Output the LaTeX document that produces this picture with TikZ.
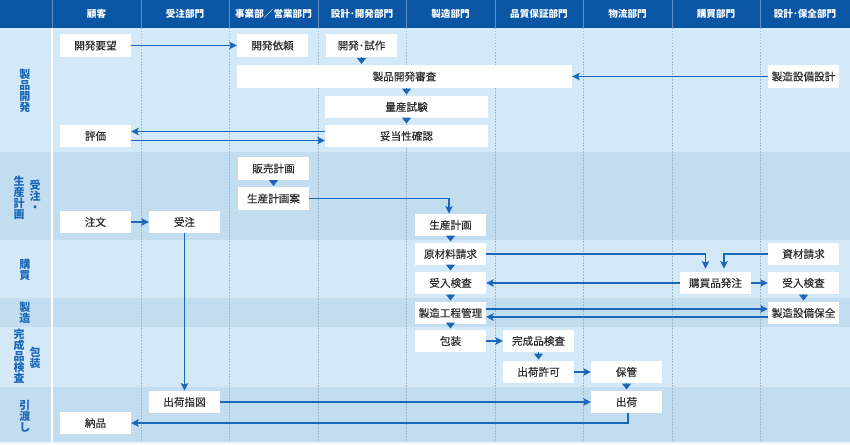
\documentclass[tikz,border=0pt]{standalone}
\usepackage{fontspec}
\setmainfont{Noto Sans CJK JP}
\newfontfamily\boxfont{Noto Sans CJK JP}[FakeBold=0.35]
\usepackage{xcolor}
\usetikzlibrary{arrows.meta}

\definecolor{headblue}{HTML}{0A56A5}
\definecolor{headline}{HTML}{5E8EC5}
\definecolor{bandlight}{HTML}{D4E9F7}
\definecolor{banddark}{HTML}{C2DDEF}
\definecolor{flowblue}{HTML}{1B67B9}
\definecolor{textgray}{HTML}{2E2E2E}
\definecolor{gridgray}{HTML}{A3B9CB}

\newcommand\lanefont{\bfseries\fontsize{11}{11.1}\selectfont\setlength{\lineskiplimit}{-20pt}\setlength{\lineskip}{0pt}}

\begin{document}
\begin{tikzpicture}
                \tikzset{x={(1pt, 0pt)}, y={(0pt, -1pt)}}
                \tikzset{
                    box/.style={fill=white, minimum width=71pt, minimum height=22.5pt, inner sep=0pt, text=textgray, font={\boxfont\fontsize{10.6}{12}\selectfont}},
                    headtxt/.style={text=white, font={\bfseries\fontsize{9.6}{11}\selectfont}},
                    lane/.style={text=flowblue, align=center, inner sep=0pt, font={\lanefont}},
                    flow/.style={draw=flowblue, line width=1.1pt, -{Stealth[length=7.5pt, width=7.5pt, inset=1.5pt]}},
                    tri/.style={draw=flowblue, line width=1pt, shorten >=1pt, -{Triangle[length=6pt, width=9pt]}},
                    sepline/.style={draw=gridgray, line width=0.6pt, dash pattern=on 1.5pt off 1.5pt}
                }
                \useasboundingbox (0, 0) rectangle (850, 444);
                \fill[white!60!bandlight] (0, 0) rectangle (850, 444);
                \fill[bandlight] (0, 28) rectangle (850, 152);
                \fill[banddark] (0, 152) rectangle (850, 240);
                \fill[bandlight] (0, 240) rectangle (850, 298);
                \fill[banddark] (0, 298) rectangle (850, 327);
                \fill[bandlight] (0, 327) rectangle (850, 387);
                \fill[banddark] (0, 387) rectangle (850, 441.5);
                \fill[headblue] (0, 0) rectangle (850, 28);

                \draw[headline, line width=0.8pt] ( 52, 0) -- ( 52, 28);
                \draw[headline, line width=0.8pt] (141, 0) -- (141, 28);
                \draw[headline, line width=0.8pt] (229, 0) -- (229, 28);
                \draw[headline, line width=0.8pt] (318, 0) -- (318, 28);
                \draw[headline, line width=0.8pt] (406, 0) -- (406, 28);
                \draw[headline, line width=0.8pt] (495, 0) -- (495, 28);
                \draw[headline, line width=0.8pt] (583, 0) -- (583, 28);
                \draw[headline, line width=0.8pt] (672, 0) -- (672, 28);
                \draw[headline, line width=0.8pt] (760, 0) -- (760, 28);

                \draw[white, line width=2pt] (52, 28) -- (52, 441.5);
                \draw[sepline] (141, 28) -- (141, 441.5);
                \draw[sepline] (229, 28) -- (229, 441.5);
                \draw[sepline] (318, 28) -- (318, 441.5);
                \draw[sepline] (406, 28) -- (406, 441.5);
                \draw[sepline] (495, 28) -- (495, 441.5);
                \draw[sepline] (583, 28) -- (583, 441.5);
                \draw[sepline] (672, 28) -- (672, 441.5);
                \draw[sepline] (760, 28) -- (760, 441.5);

                \node[headtxt] (hkokyaku) at ( 96.5, 14) {顧客};
                \node[headtxt] (hjuchu)   at (185,   14) {受注部門};
                \node[headtxt] (heigyo)   at (273.5, 14) {事業部／営業部門};
                \node[headtxt] (hkaihatsu) at (362,  14) {設計･開発部門};
                \node[headtxt] (hseizo)   at (450.5, 14) {製造部門};
                \node[headtxt] (hhinsho)  at (539,   14) {品質保証部門};
                \node[headtxt] (hbutsuryu) at (627.5, 14) {物流部門};
                \node[headtxt] (hkobai)   at (716,   14) {購買部門};
                \node[headtxt] (hhozen)   at (805,   14) {設計･保全部門};

                \node[lane] (lseihin)  at (25,  90.5) {製\\品\\開\\発};
                \node[lane] (lkeikaku) at (19, 197.5) {生\\産\\計\\画};
                \node[lane] (ljuchu)   at (35, 195.5) {受\\注\\・};
                \node[lane] (lkobai)   at (25, 270) {購\\買};
                \node[lane] (lseizo)   at (25, 312.5) {製\\造};
                \node[lane] (lkensa)   at (19, 356) {完\\成\\品\\検\\査};
                \node[lane] (lhoso)    at (35, 357.5) {包\\装};
                \node[lane] (lhikiwatashi) at (25, 416) {引\\渡\\し};

                \node[box] (yobo)    at ( 95.5,  45.5) {開発要望};
                \node[box] (irai)    at (272.5,  45.5) {開発依頼};
                \node[box] (shisaku) at (361.5,  45.5) {開発･試作};
                \node[box, minimum width=335pt] (shinsa) at (404.5, 76.5) {製品開発審査};
                \node[box] (setsubi) at (803.5,  76.5) {製造設備設計};
                \node[box, minimum width=163pt] (shiken)  at (406.5, 107) {量産試験};
                \node[box, minimum width=163pt] (kakunin) at (406.5, 136) {妥当性確認};
                \node[box] (hyoka)   at ( 95.5, 136) {評価};

                \node[box] (hanbai)  at (273.5, 168.5) {販売計画};
                \node[box] (anplan)  at (273.5, 198.5) {生産計画案};
                \node[box] (chumon)  at ( 95.5, 222) {注文};
                \node[box] (juchu)   at (184.5, 222) {受注};
                \node[box] (seisan)  at (450.5, 225) {生産計画};

                \node[box] (genzai)  at (450.5, 254) {原材料請求};
                \node[box] (shizai)  at (803.5, 254) {資材請求};
                \node[box] (ukeire)  at (450.5, 283) {受入検査};
                \node[box] (hacchu)  at (715.5, 283) {購買品発注};
                \node[box] (ukeiresz) at (803.5, 283) {受入検査};

                \node[box] (kotei)   at (450.5, 313) {製造工程管理};
                \node[box] (hozen)   at (803.5, 313) {製造設備保全};

                \node[box] (hoso)    at (450.5, 341) {包装};
                \node[box] (kensa)   at (538.5, 341) {完成品検査};
                \node[box] (kyoka)   at (538.5, 372) {出荷許可};
                \node[box] (hokan)   at (626.5, 372) {保管};

                \node[box] (shiji)   at (184.5, 402) {出荷指図};
                \node[box] (shukka)  at (626.5, 402) {出荷};
                \node[box] (nohin)   at ( 95.5, 423) {納品};

                \draw[flow] (yobo) -- (irai);
                \draw[tri] (shisaku.south) -- (shisaku.south |- shinsa.north);
                \draw[flow] (setsubi) -- (shinsa);
                \draw[tri] (shiken.north |- shinsa.south) -- (shiken.north);
                \draw[tri] (shiken) -- (kakunin);
                \draw[flow] ([yshift=4.5pt]kakunin.west) -- ([yshift=4.5pt]hyoka.east);
                \draw[flow] ([yshift=-4.5pt]hyoka.east) -- ([yshift=-4.5pt]kakunin.west);

                \draw[tri] (hanbai) -- (anplan);
                \draw[flow] (anplan.east) -| ([xshift=-1.5pt]seisan.north);
                \draw[flow] (chumon) -- (juchu);
                \draw[flow] (juchu) -- (shiji);

                \draw[tri] (seisan) -- (genzai);
                \draw[tri] (genzai) -- (ukeire);
                \draw[flow, shorten >=3pt] (genzai.east) -| ([xshift=-10pt]hacchu.north);
                \draw[flow, shorten >=3pt] (shizai.west) -| ([xshift=8.5pt]hacchu.north);
                \draw[flow] (hacchu) -- (ukeire);
                \draw[flow] (hacchu) -- (ukeiresz);

                \draw[tri] (ukeire) -- (kotei);
                \draw[tri] (ukeiresz) -- (hozen);
                \draw[flow] ([yshift=4pt]kotei.east) -- ([yshift=4pt]hozen.west);
                \draw[flow] ([yshift=-4pt]hozen.west) -- ([yshift=-4pt]kotei.east);

                \draw[tri] (kotei) -- (hoso);
                \draw[flow] (hoso) -- (kensa);
                \draw[tri] (kensa) -- (kyoka);
                \draw[flow] (kyoka) -- (hokan);
                \draw[tri] (hokan) -- (shukka);

                \draw[flow] (shiji) -- (shukka);
                \draw[flow] ([xshift=1.5pt]shukka.south) |- (nohin.east);
            \end{tikzpicture}
\end{document}
